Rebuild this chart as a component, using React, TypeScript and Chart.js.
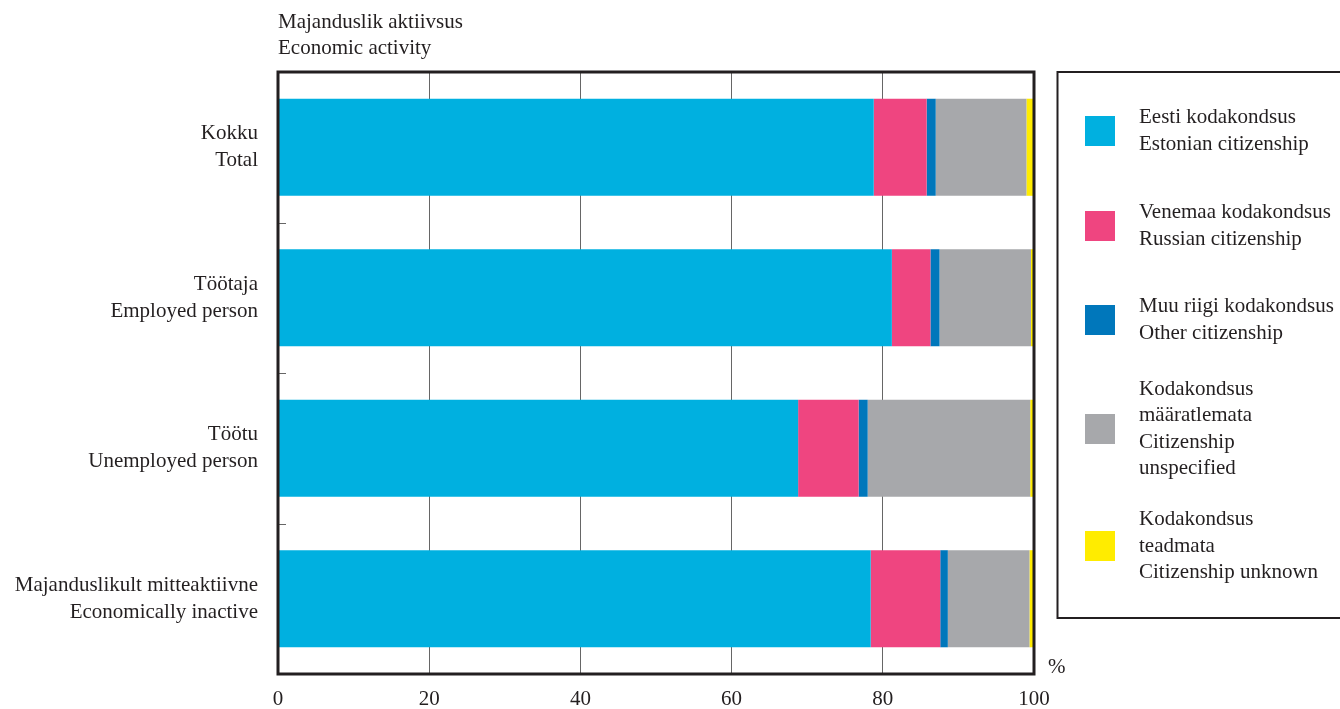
import React, { useEffect, useRef } from "react";
import { Chart, registerables } from "chart.js";

Chart.register(...registerables);

const categories: string[][] = [
  ["Kokku", "Total"],
  ["Töötaja", "Employed person"],
  ["Töötu", "Unemployed person"],
  ["Majanduslikult mitteaktiivne", "Economically inactive"],
];

const estonian = [78.8, 81.2, 68.8, 78.4];
const russian = [7.0, 5.1, 8.0, 9.2];
const other = [1.2, 1.2, 1.2, 1.0];
const unspecified = [12.0, 12.1, 21.5, 10.8];
const unknown = [1.0, 0.4, 0.5, 0.6];

const seriesLabels: string[][] = [
  ["Eesti kodakondsus", "Estonian citizenship"],
  ["Venemaa kodakondsus", "Russian citizenship"],
  ["Muu riigi kodakondsus", "Other citizenship"],
  ["Kodakondsus", "määratlemata", "Citizenship", "unspecified"],
  ["Kodakondsus", "teadmata", "Citizenship unknown"],
];

const xTicks = [0, 20, 40, 60, 80, 100];
const titleLines = ["Majanduslik aktiivsus", "Economic activity"];
const unitLabel = "%";

const colors = ["#00b0e0", "#ef4580", "#0077bb", "#a7a8ab", "#ffec00"];
const FONT = "'Liberation Serif', 'Times New Roman', serif";
const TEXT = "#231f20";

export default function App() {
  const ref = useRef<HTMLCanvasElement | null>(null);

  useEffect(() => {
    if (!ref.current) return;
    const values = [estonian, russian, other, unspecified, unknown];

    const decor = {
      id: "decor",
      afterDraw(chart: any) {
        const ctx = chart.ctx;
        const a = chart.chartArea;
        ctx.save();
        const y = chart.scales.y;
        const x = chart.scales.x;
        ctx.strokeStyle = "#666";
        ctx.lineWidth = 1;
        for (let i = 1; i < categories.length; i++) {
          const yy = Math.round((y.getPixelForValue(i - 1) + y.getPixelForValue(i)) / 2) + 0.5;
          ctx.beginPath();
          ctx.moveTo(a.left, yy);
          ctx.lineTo(a.left + 8, yy);
          ctx.stroke();
        }
        ctx.strokeStyle = TEXT;
        ctx.lineWidth = 3;
        ctx.strokeRect(a.left, a.top, a.right - a.left, a.bottom - a.top);
        ctx.fillStyle = TEXT;
        ctx.font = `21px ${FONT}`;
        ctx.textBaseline = "middle";
        ctx.textAlign = "center";
        xTicks.forEach((v) => ctx.fillText(String(v), x.getPixelForValue(v), a.bottom + 25));
        ctx.textAlign = "left";
        titleLines.forEach((t, i) => ctx.fillText(t, a.left, 22 + i * 26));
        ctx.fillText(unitLabel, a.right + 14, a.bottom - 7);
        const bx = 1057.5;
        const by = 72;
        ctx.lineWidth = 2;
        ctx.strokeRect(bx, by, 400, 546);
        const centers = [131, 226, 320, 429, 546];
        const lh = 26.5;
        seriesLabels.forEach((lines, i) => {
          const c = centers[i];
          ctx.fillStyle = colors[i];
          ctx.fillRect(1085, c - 15, 30, 30);
          ctx.fillStyle = TEXT;
          const start = c - ((lines.length - 1) * lh) / 2;
          lines.forEach((l, j) => ctx.fillText(l, 1139, start + j * lh));
        });
        ctx.restore();
      },
    };

    const chart = new Chart(ref.current, {
      type: "bar",
      data: {
        labels: categories as any,
        datasets: values.map((v, i) => ({
          label: seriesLabels[i].join(" "),
          data: v,
          backgroundColor: colors[i],
          borderWidth: 0,
          barPercentage: 0.645,
          categoryPercentage: 1,
        })),
      },
      options: {
        indexAxis: "y",
        responsive: false,
        animation: false,
        layout: { padding: { left: 0, right: 306, top: 72, bottom: 0 } },
        plugins: { legend: { display: false }, tooltip: { enabled: false } },
        scales: {
          x: {
            stacked: true,
            min: 0,
            max: 100,
            afterBuildTicks: (s: any) => {
              s.ticks = xTicks.map((v) => ({ value: v }));
            },
            afterFit: (s: any) => {
              s.height = 35;
              s.paddingLeft = 0;
              s.paddingRight = 0;
            },
            grid: { color: "#666", lineWidth: 1, drawTicks: false },
            border: { display: false },
            ticks: { display: false },
          },
          y: {
            stacked: true,
            afterFit: (s: any) => {
              s.width = 278;
              s.paddingTop = 0;
              s.paddingBottom = 0;
            },
            grid: { display: false },
            border: { display: false },
            ticks: {
              padding: 12,
              color: TEXT,
              font: { family: FONT, size: 21, lineHeight: 1.29 },
            },
          },
        },
      },
      plugins: [decor],
    });
    return () => chart.destroy();
  }, []);

  return (
    <div style={{ position: "absolute", left: 0, top: 0, width: 1340, height: 709, background: "#fff" }}>
      <canvas ref={ref} width={1340} height={709} />
    </div>
  );
}
